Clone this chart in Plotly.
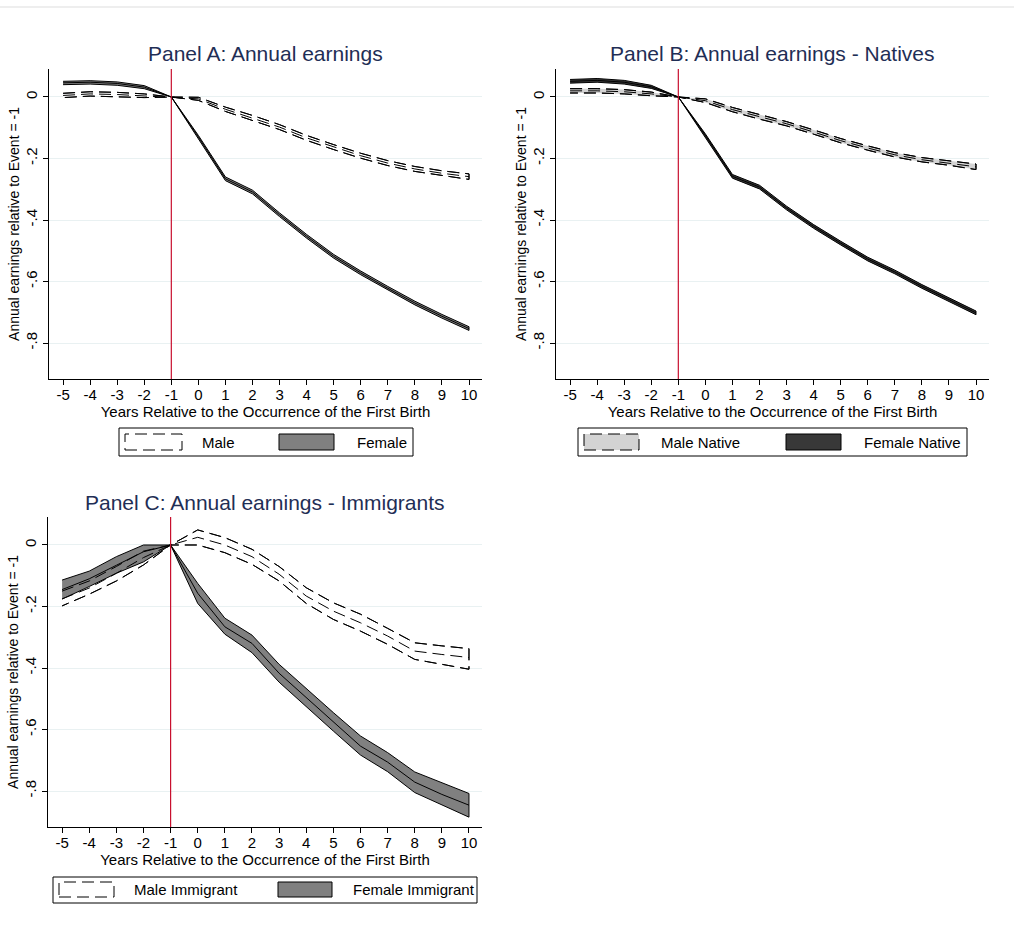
import plotly.graph_objects as go

years = [-5, -4, -3, -2, -1, 0, 1, 2, 3, 4, 5, 6, 7, 8, 9, 10]
x_ticktext = ["-5", "-4", "-3", "-2", "-1", "0", "1", "2", "3", "4", "5", "6", "7", "8", "9", "10"]
y_tickvals = [0, -0.2, -0.4, -0.6, -0.8]
y_ticktext = ["0", "-.2", "-.4", "-.6", "-.8"]

# Panel A: all
a_fem_est = [0.046, 0.048, 0.044, 0.032, 0, -0.130, -0.266, -0.309, -0.383, -0.453, -0.518, -0.572, -0.622, -0.670, -0.713, -0.753]
a_fem_hi = [0.051, 0.053, 0.049, 0.037, 0, -0.125, -0.260, -0.303, -0.377, -0.447, -0.512, -0.566, -0.616, -0.664, -0.707, -0.747]
a_fem_lo = [0.040, 0.042, 0.038, 0.027, 0, -0.135, -0.272, -0.315, -0.389, -0.459, -0.524, -0.578, -0.628, -0.676, -0.719, -0.759]
a_mal_est = [0.005, 0.010, 0.008, 0.004, 0, -0.006, -0.040, -0.068, -0.098, -0.133, -0.163, -0.191, -0.215, -0.234, -0.248, -0.259]
a_mal_hi = [0.012, 0.017, 0.015, 0.010, 0, -0.001, -0.033, -0.060, -0.090, -0.125, -0.155, -0.183, -0.207, -0.226, -0.240, -0.250]
a_mal_lo = [-0.002, 0.003, 0.001, -0.002, 0, -0.011, -0.047, -0.076, -0.106, -0.141, -0.171, -0.199, -0.223, -0.242, -0.256, -0.268]

# Panel B: natives
b_fem_est = [0.051, 0.054, 0.048, 0.033, 0, -0.125, -0.258, -0.293, -0.361, -0.421, -0.475, -0.527, -0.569, -0.616, -0.659, -0.702]
b_fem_hi = [0.057, 0.060, 0.054, 0.038, 0, -0.120, -0.252, -0.287, -0.355, -0.415, -0.469, -0.521, -0.563, -0.610, -0.653, -0.696]
b_fem_lo = [0.045, 0.048, 0.042, 0.028, 0, -0.130, -0.264, -0.299, -0.367, -0.427, -0.481, -0.533, -0.575, -0.622, -0.665, -0.708]
b_mal_est = [0.020, 0.020, 0.017, 0.010, 0, -0.012, -0.041, -0.065, -0.087, -0.114, -0.142, -0.166, -0.188, -0.204, -0.215, -0.227]
b_mal_hi = [0.027, 0.027, 0.024, 0.016, 0, -0.006, -0.034, -0.058, -0.080, -0.107, -0.135, -0.159, -0.181, -0.197, -0.208, -0.218]
b_mal_lo = [0.013, 0.013, 0.010, 0.004, 0, -0.018, -0.048, -0.072, -0.094, -0.121, -0.149, -0.173, -0.195, -0.211, -0.222, -0.236]

# Panel C: immigrants
c_fem_est = [-0.145, -0.110, -0.066, -0.022, 0, -0.157, -0.266, -0.320, -0.417, -0.497, -0.575, -0.654, -0.706, -0.771, -0.811, -0.846]
c_fem_hi = [-0.114, -0.085, -0.038, 0.000, 0, -0.125, -0.238, -0.293, -0.388, -0.467, -0.545, -0.621, -0.675, -0.738, -0.773, -0.808]
c_fem_lo = [-0.176, -0.135, -0.092, -0.055, 0, -0.190, -0.290, -0.350, -0.446, -0.524, -0.605, -0.683, -0.737, -0.805, -0.846, -0.885]
c_mal_est = [-0.175, -0.140, -0.092, -0.041, 0, 0.025, 0.000, -0.038, -0.095, -0.166, -0.215, -0.253, -0.296, -0.345, -0.356, -0.366]
c_mal_hi = [-0.150, -0.117, -0.070, -0.020, 0, 0.049, 0.024, -0.014, -0.070, -0.139, -0.188, -0.225, -0.271, -0.318, -0.328, -0.337]
c_mal_lo = [-0.198, -0.160, -0.117, -0.065, 0, 0.000, -0.025, -0.063, -0.117, -0.190, -0.242, -0.280, -0.323, -0.372, -0.388, -0.404]

FONT = "Liberation Sans, Arial, sans-serif"
DASH = "12px,6px"

panels = [
    dict(ax="x", ay="y", title="Panel A: Annual earnings",
         male=("Male", a_mal_est, a_mal_hi, a_mal_lo, "#ffffff"),
         female=("Female", a_fem_est, a_fem_hi, a_fem_lo, "#808080")),
    dict(ax="x2", ay="y2", title="Panel B: Annual earnings - Natives",
         male=("Male Native", b_mal_est, b_mal_hi, b_mal_lo, "#d3d3d3"),
         female=("Female Native", b_fem_est, b_fem_hi, b_fem_lo, "#383838")),
    dict(ax="x3", ay="y3", title="Panel C: Annual earnings - Immigrants",
         male=("Male Immigrant", c_mal_est, c_mal_hi, c_mal_lo, "#ffffff"),
         female=("Female Immigrant", c_fem_est, c_fem_hi, c_fem_lo, "#808080")),
]

fig = go.Figure()

def band_xy(hi, lo):
    return years + years[::-1], hi + lo[::-1]

for p in panels:
    mname, mest, mhi, mlo, mfill = p["male"]
    fname, fest, fhi, flo, ffill = p["female"]
    bx, by = band_xy(mhi, mlo)
    fig.add_trace(go.Scatter(x=bx, y=by, fill="toself", fillcolor=mfill, mode="lines",
                             line=dict(color="black", width=1, dash=DASH),
                             name=mname, showlegend=False, xaxis=p["ax"], yaxis=p["ay"],
                             hoverinfo="skip"))
    bx, by = band_xy(fhi, flo)
    fig.add_trace(go.Scatter(x=bx, y=by, fill="toself", fillcolor=ffill, mode="lines",
                             line=dict(color="black", width=1),
                             name=fname, showlegend=False, xaxis=p["ax"], yaxis=p["ay"],
                             hoverinfo="skip"))
    fig.add_trace(go.Scatter(x=years, y=fest, mode="lines", line=dict(color="black", width=1),
                             name=fname, showlegend=False, xaxis=p["ax"], yaxis=p["ay"]))
    bx, by = band_xy(mhi, mlo)
    fig.add_trace(go.Scatter(x=bx, y=by, mode="lines",
                             line=dict(color="black", width=1, dash=DASH),
                             showlegend=False, xaxis=p["ax"], yaxis=p["ay"], hoverinfo="skip"))
    fig.add_trace(go.Scatter(x=years, y=mest, mode="lines",
                             line=dict(color="black", width=1, dash=DASH),
                             name=mname, showlegend=False, xaxis=p["ax"], yaxis=p["ay"]))

W, H = 1014, 938
def px_x(v):
    return v / W
def px_y(v):
    return 1 - v / H

boxes = {
    "x": (49, 482, 69, 379),
    "x2": (556, 989, 69, 379),
    "x3": (48, 482, 517, 827),
}

xaxis_common = dict(range=[-5.52, 10.48], tickvals=years, ticktext=x_ticktext,
                    ticks="outside", ticklen=5, ticklabelstandoff=-3,
                    tickcolor="black", showline=True, linecolor="black", linewidth=1,
                    showgrid=False, zeroline=False,
                    tickfont=dict(family=FONT, size=15, color="black"),
                    title=dict(text="Years Relative to the Occurrence of the First Birth",
                               font=dict(family=FONT, size=15, color="black"), standoff=0))
yaxis_common = dict(range=[-0.917, 0.091], tickvals=y_tickvals, ticktext=y_ticktext,
                    tickangle=-90, ticks="outside", ticklen=5, tickcolor="black",
                    showline=True, linecolor="black", linewidth=1,
                    showgrid=True, gridcolor="#e9f1f2", gridwidth=1, zeroline=False,
                    tickfont=dict(family=FONT, size=15, color="black"),
                    title=dict(text="Annual earnings relative to Event = -1",
                               font=dict(family=FONT, size=14, color="black"), standoff=0))

layout = dict(width=W, height=H, margin=dict(l=0, r=0, t=0, b=0),
              paper_bgcolor="white", plot_bgcolor="white", showlegend=False,
              font=dict(family=FONT, color="black"))

for key in ["x", "x2", "x3"]:
    l, r, t, b = boxes[key]
    layout["xaxis" + key[1:]] = dict(xaxis_common, domain=[px_x(l), px_x(r)], anchor="y" + key[1:])
    layout["yaxis" + key[1:]] = dict(yaxis_common, domain=[px_y(b), px_y(t)], anchor=key)

fig.update_layout(**layout)

# panel titles
title_pos = [("Panel A: Annual earnings", 265.5, 53),
             ("Panel B: Annual earnings - Natives", 772, 53),
             ("Panel C: Annual earnings - Immigrants", 265, 502)]
for text, cx, cy in title_pos:
    fig.add_annotation(text=text, x=px_x(cx), y=px_y(cy), xref="paper", yref="paper",
                       xanchor="center", yanchor="middle", showarrow=False,
                       font=dict(family=FONT, size=21, color="#1f2e55"))

# event reference line at -1
for ax, ay in [("x", "y"), ("x2", "y2"), ("x3", "y3")]:
    fig.add_shape(type="line", x0=-1, x1=-1, y0=0, y1=1, xref=ax, yref=ay + " domain",
                  line=dict(color="#c8102e", width=1.2), layer="above")

# legends (box, keys, labels) per panel, in pixel positions
legends = [
    dict(box=(119, 413, 428, 456), sym_y=(434, 450),
         items=[(panels[0]["male"], 125, 182, 200, True), (panels[0]["female"], 279, 334, 355, False)]),
    dict(box=(578, 967, 428, 456), sym_y=(434, 450),
         items=[(panels[1]["male"], 584, 639, 659, True), (panels[1]["female"], 786, 841, 862, False)]),
    dict(box=(53, 477, 877, 903), sym_y=(882, 897),
         items=[(panels[2]["male"], 59, 114, 132, True), (panels[2]["female"], 278, 332, 351, False)]),
]
for lg in legends:
    l, r, t, b = lg["box"]
    fig.add_shape(type="rect", xref="paper", yref="paper", x0=px_x(l), x1=px_x(r),
                  y0=px_y(b), y1=px_y(t), line=dict(color="black", width=1), fillcolor="white")
    st, sb = lg["sym_y"]
    for (series, s0, s1, tx, dashed) in lg["items"]:
        name, fill = series[0], series[4]
        fig.add_shape(type="rect", xref="paper", yref="paper", x0=px_x(s0), x1=px_x(s1),
                      y0=px_y(sb), y1=px_y(st), fillcolor=fill,
                      line=dict(color="black", width=1, dash=DASH if dashed else "solid"))
        fig.add_annotation(text=name, x=px_x(tx), y=px_y((st + sb) / 2), xref="paper", yref="paper",
                           xanchor="left", yanchor="middle", showarrow=False,
                           font=dict(family=FONT, size=15, color="black"))

# faint top rule
fig.add_shape(type="line", x0=0, x1=1, y0=px_y(7), y1=px_y(7), xref="paper", yref="paper",
              line=dict(color="#eeeeee", width=2))

fig.write_html("out.html")
